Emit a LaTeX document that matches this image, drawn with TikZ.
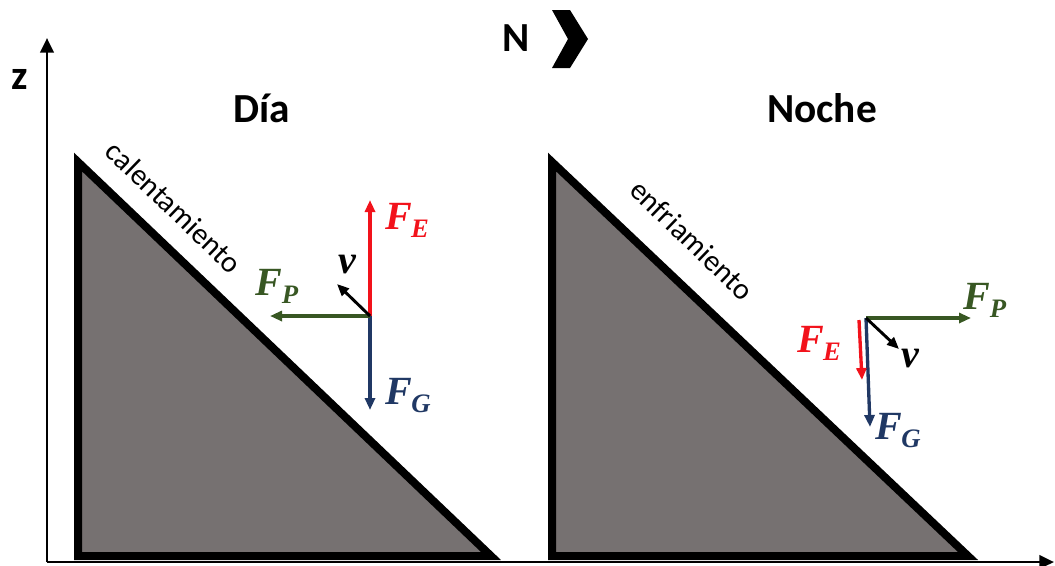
\documentclass[tikz,border=0pt]{standalone}
\usepackage{fontspec}
\setmainfont{Carlito}
\newfontfamily\timesfont{Liberation Serif}
\usetikzlibrary{arrows.meta}

\definecolor{slopegray}{HTML}{767171}
\definecolor{fred}{HTML}{F2121B}
\definecolor{fblue}{HTML}{203864}
\definecolor{fgreen}{HTML}{385723}

% force symbol with subscript
\newcommand{\frc}[1]{F\kern-0.5pt\raisebox{-6pt}{\fontsize{20}{20}\selectfont #1}}

\begin{document}
\begin{tikzpicture}[x=0.75pt,y=-0.75pt,
			>={Triangle[length=9pt,width=7.5pt]},
			slope/.style={draw=black,line width=6pt,fill=slopegray,line join=miter},
			axis/.style={line width=2.2pt,-{Triangle[length=11pt,width=10pt]}},
			force/.style={line width=2.5pt,->},
			title/.style={font=\fontsize{31}{31}\selectfont\bfseries,inner sep=0pt},
			side/.style={font=\fontsize{22.5}{22.5}\selectfont,rotate=-44,inner sep=0pt},
			flabel/.style={font=\timesfont\fontsize{30}{30}\selectfont\bfseries\itshape,inner sep=0pt}]
			
			\useasboundingbox (0,0) rectangle (1055,565);
			
			% slopes
			\draw[slope] (78,162) -- (78,556) -- (491,556) -- cycle;
			
			\draw[slope] (552,162) -- (552,556) -- (968,556) -- cycle;
			
			% axes
			\coordinate (origin) at (47,562);
			
			\coordinate (ztop) at (47,38);
			
			\coordinate (xend) at (1054,562);
			
			\draw[axis] (origin) -- (ztop);
			
			\draw[axis] (origin) -- (xend);
			
			\node[title] (zlabel) at (20,79){z};
			
			% north mark
			\node[title] (north) at (516,38){N};
			
			\fill (552,10) -- (570,10) -- (588,39) -- (570,68) -- (552,68) -- (568,39) -- cycle;
			
			% titles
			\node[title] (dia) at (262,108){Día};
			
			\node[title] (noche) at (822,108){Noche};
			
			\node[side] (warm) at (174,207){calentamiento};
			
			\node[side] (cool) at (692,240){enfriamiento};
			
			% day forces
			\coordinate (oD) at (370,316);
			
			\coordinate (feD) at (370,200);
			
			\coordinate (fgD) at (370,410);
			
			\coordinate (fpD) at (270,316);
			
			\coordinate (vD) at (337,284);
			
			\draw[force,fred] (oD) -- (feD);
			
			\draw[force,fblue] (oD) -- (fgD);
			
			\draw[force,fgreen] (oD) -- (fpD);
			
			\draw[force,black,line width=2.2pt] (oD) -- (vD);
			
			\node[flabel,fred] (lfeD) at (407,220){\frc{E}};
			
			\node[flabel,fblue] (lfgD) at (408,396){\frc{G}};
			
			\node[flabel,fgreen] (lfpD) at (277,286){\frc{P}};
			
			\node[flabel] (lvD) at (347,264){v};
			
			% night forces
			\coordinate (oN) at (866,318);
			
			\coordinate (feN0) at (859,320);
			
			\coordinate (feN) at (862,380);
			
			\coordinate (fgN) at (870,427);
			
			\coordinate (fpN) at (971,318);
			
			\coordinate (vN) at (899,349);
			
			\draw[force,fblue] (oN) -- (fgN);
			
			\draw[force,fred] (feN0) -- (feN);
			
			\draw[force,fgreen] (oN) -- (fpN);
			
			\draw[force,black,line width=2.2pt] (oN) -- (vN);
			
			\node[flabel,fred] (lfeN) at (819,343){\frc{E}};
			
			\node[flabel,fblue] (lfgN) at (898,431){\frc{G}};
			
			\node[flabel,fgreen] (lfpN) at (985,300){\frc{P}};
			
			\node[flabel] (lvN) at (910,358){v};
			
		\end{tikzpicture}
\end{document}
